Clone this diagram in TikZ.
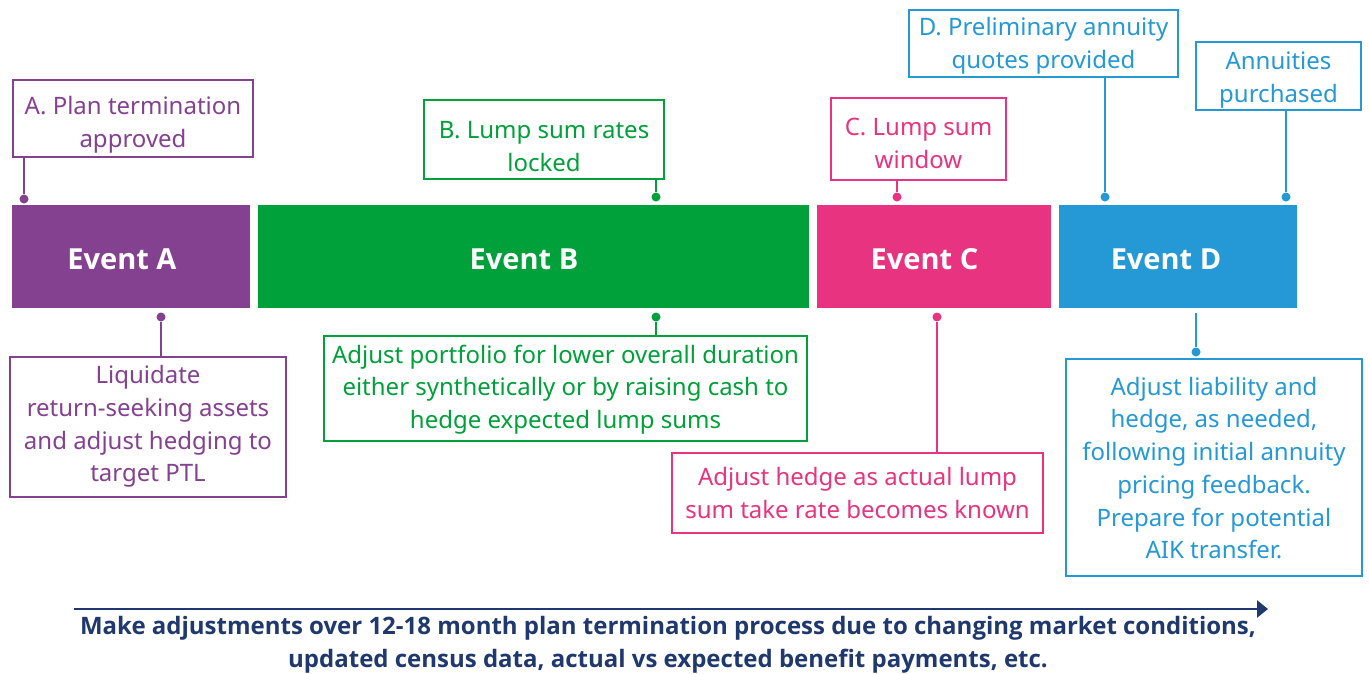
\documentclass[tikz,border=0pt]{standalone}
\usepackage{fontspec}
\setmainfont{Noto Sans}
\newfontfamily\boldfam{Open Sans}
\usetikzlibrary{arrows.meta}
\definecolor{cA}{RGB}{132,65,144}
\definecolor{cB}{RGB}{0,160,58}
\definecolor{cC}{RGB}{232,52,128}
\definecolor{cD}{RGB}{37,152,214}
\definecolor{navy}{RGB}{31,56,110}
\tikzset{
  box/.style={draw=#1, line width=2.5pt, fill=white, inner sep=0pt},
  txt/.style={text=#1, align=center, inner sep=0pt, font=\fontsize{24}{32.7}\selectfont},
  bar/.style={fill=#1, draw=none, inner sep=0pt, minimum height=103pt},
  evlabel/.style={text=white, font=\boldfam\bfseries\fontsize{29}{32}\selectfont},
  dot/.style={circle, fill=#1, draw=none, inner sep=0pt, minimum size=9pt},
  conn/.style={draw=#1, line width=2.2pt},
}
\begin{document}
\begin{tikzpicture}[x=1pt,y=-1pt]
\useasboundingbox (0,0) rectangle (1369,673);
% event bars
\node[bar=cA, minimum width=238pt] (barA) at (131,256.5) {};
\node[bar=cB, minimum width=551pt] (barB) at (533.5,256.5) {};
\node[bar=cC, minimum width=234pt] (barC) at (934,256.5) {};
\node[bar=cD, minimum width=238pt] (barD) at (1178,256.5) {};
\node[evlabel] (lA) at (122,259) {Event A};
\node[evlabel] (lB) at (524,259) {Event B};
\node[evlabel] (lC) at (924.5,259) {Event C};
\node[evlabel] (lD) at (1166,259) {Event D};
% top boxes
\node[box=cA, minimum width=240pt, minimum height=77pt] (tA) at (133,118.5) {};
\node[txt=cA] (tAt) at (133,124.5) {A. Plan termination\\approved};
\node[box=cB, minimum width=240pt, minimum height=79pt] (tB) at (544,139.5) {};
\node[txt=cB] (tBt) at (544,146.5) {B. Lump sum rates\\locked};
\node[box=cC, minimum width=175pt, minimum height=82pt] (tC) at (918.5,139) {};
\node[txt=cC] (tCt) at (918.5,143.5) {C. Lump sum\\window};
\node[box=cD, minimum width=269pt, minimum height=67pt] (tD) at (1043.5,43.5) {};
\node[txt=cD] (tDt) at (1043.5,45.5) {D. Preliminary annuity\\quotes provided};
\node[box=cD, minimum width=165pt, minimum height=68pt] (tE) at (1278.5,76) {};
\node[txt=cD] (tEt) at (1278.5,80) {Annuities\\purchased};
% top dots
\node[dot=cA] (dA) at (24,199) {};
\node[dot=cB] (dB) at (656,197) {};
\node[dot=cC] (dC) at (897,197) {};
\node[dot=cD] (dD) at (1105,197) {};
\node[dot=cD] (dE) at (1286,197) {};
\draw[conn=cA] (tA.south -| dA) -- (dA);
\draw[conn=cB] (tB.south -| dB) -- (dB);
\draw[conn=cC] (tC.south -| dC) -- (dC);
\draw[conn=cD] (tD.south -| dD) -- (dD);
\draw[conn=cD] (tE.south -| dE) -- (dE);
% bottom boxes
\node[box=cA, minimum width=276pt, minimum height=140pt] (bA) at (148,427) {};
\node[txt=cA] (bAt) at (148,426.5) {Liquidate\\return-seeking assets\\and adjust hedging to\\target PTL};
\node[box=cB, minimum width=483pt, minimum height=105pt] (bB) at (565.5,388.5) {};
\node[txt=cB] (bBt) at (565.5,389.5) {Adjust portfolio for lower overall duration\\either synthetically or by raising cash to\\hedge expected lump sums};
\node[box=cC, minimum width=371pt, minimum height=80pt] (bC) at (857.5,493) {};
\node[txt=cC] (bCt) at (857.5,493) {Adjust hedge as actual lump\\sum take rate becomes known};
\node[box=cD, minimum width=296pt, minimum height=217pt] (bD) at (1214,467.5) {};
\node[txt=cD] (bDt) at (1214,468) {Adjust liability and\\hedge, as needed,\\following initial annuity\\pricing feedback.\\Prepare for potential\\AIK transfer.};
% bottom dots
\node[dot=cA] (eA) at (161,317) {};
\node[dot=cB] (eB) at (656,317) {};
\node[dot=cC] (eC) at (937,317) {};
\node[dot=cD] (eD) at (1196,352) {};
\coordinate (sD) at (1196,313);
\draw[conn=cA] (eA) -- (bA.north -| eA);
\draw[conn=cB] (eB) -- (bB.north -| eB);
\draw[conn=cC] (eC) -- (bC.north -| eC);
\draw[conn=cD] (sD) -- (eD);
% timeline arrow
\coordinate (ar0) at (74,609);
\coordinate (ar1) at (1268,609);
\draw[navy, line width=2.8pt, -{Triangle[length=11pt,width=17pt]}] (ar0) -- (ar1);
\node[text=navy, font=\boldfam\bfseries\fontsize{24}{32.5}\selectfont, align=center] (cap) at (668,645)
  {Make adjustments over 12-18 month plan termination process due to changing market conditions,\\updated census data, actual vs expected benefit payments, etc.};
\end{tikzpicture}
\end{document}
